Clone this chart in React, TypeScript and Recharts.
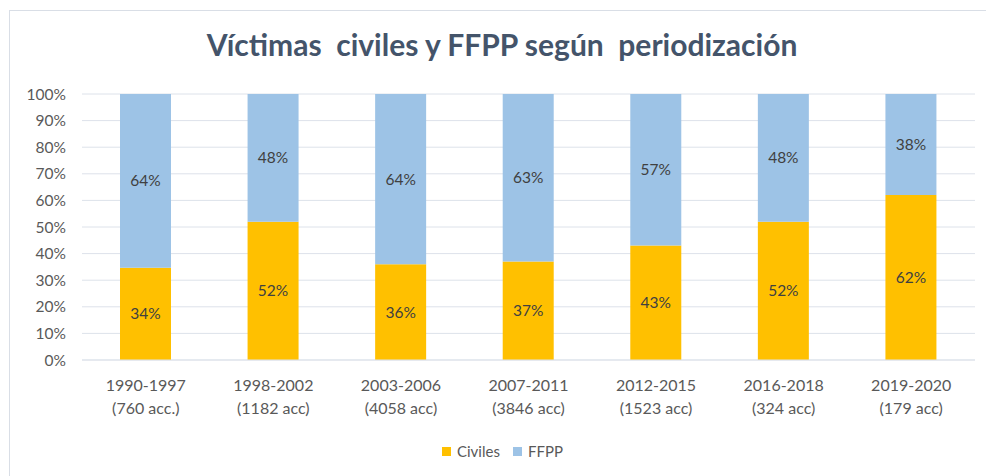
import { BarChart, Bar, XAxis, YAxis, CartesianGrid, LabelList, Legend } from 'recharts';

const periods = ['1990-1997', '1998-2002', '2003-2006', '2007-2011', '2012-2015', '2016-2018', '2019-2020'];
const accidents = ['(760 acc.)', '(1182 acc)', '(4058 acc)', '(3846 acc)', '(1523 acc)', '(324 acc)', '(179 acc)'];
const civiles = [34, 52, 36, 37, 43, 52, 62];
const ffpp = [64, 48, 64, 63, 57, 48, 38];
const yTicks = [0, 0.1, 0.2, 0.3, 0.4, 0.5, 0.6, 0.7, 0.8, 0.9, 1];

const data = periods.map((p, i) => ({ period: p, acc: accidents[i], civiles: civiles[i], ffpp: ffpp[i] }));

const FONT = 'Lato, "Open Sans", sans-serif';
const TEXT = '#595959';

const PeriodTick = ({ x, y, payload, index }: any) => (
  <text x={x} y={y} textAnchor="middle" fill={TEXT} fontSize={16} fontFamily={FONT}>
    <tspan x={x} dy={23}>{payload.value}</tspan>
    <tspan x={x} dy={23}>{accidents[index]}</tspan>
  </text>
);

const LegendContent = () => (
  <div style={{ display: 'flex', alignItems: 'center', fontFamily: FONT, fontSize: 15, color: TEXT }}>
    <span style={{ width: 9, height: 9, background: '#FFC000', display: 'inline-block', marginRight: 6 }} />
    <span style={{ marginRight: 13 }}>Civiles</span>
    <span style={{ width: 9, height: 9, background: '#9DC3E6', display: 'inline-block', marginRight: 6 }} />
    <span>FFPP</span>
  </div>
);

export default function App() {
  return (
    <div style={{ position: 'absolute', left: 0, top: 0, width: 986, height: 476, background: '#fff', overflow: 'hidden' }}>
      <div style={{ position: 'absolute', left: 9, top: 10, width: 1000, height: 500, border: '1px solid #d9dee6' }} />
      <div style={{
        position: 'absolute', left: 0, top: 26, width: 1004, textAlign: 'center', whiteSpace: 'pre',
        fontFamily: FONT, fontWeight: 700, fontSize: 30, color: '#44546A',
      }}>
        {'Víctimas  civiles y FFPP según  periodización'}
      </div>
      <div style={{ position: 'absolute', left: 0, top: 0 }}>
        <BarChart
          width={986}
          height={476}
          data={data}
          stackOffset="expand"
          barSize={51}
          margin={{ top: 94, right: 11, bottom: 0, left: 0 }}
        >
          <CartesianGrid vertical={false} stroke="#dde2ea" strokeWidth={1} />
          <XAxis
            dataKey="period"
            height={98}
            tickLine={false}
            axisLine={{ stroke: '#dde2ea' }}
            tick={<PeriodTick />}
            interval={0}
          />
          <YAxis
            width={82}
            ticks={yTicks}
            domain={[0, 1]}
            axisLine={false}
            tickLine={false}
            tickSize={0}
            tickMargin={16}
            tickFormatter={(v: number) => `${Math.round(v * 100)}%`}
            tick={{ fill: TEXT, fontSize: 15.5, fontFamily: FONT }}
          />
          <Legend
            content={<LegendContent />}
            wrapperStyle={{ position: 'absolute', left: 442, top: 442, width: 'auto' }}
          />
          <Bar dataKey="civiles" name="Civiles" stackId="a" fill="#FFC000" isAnimationActive={false}>
            <LabelList dataKey="civiles" position="center" formatter={(v: any) => `${v}%`} fill="#404040" fontSize={15.5} fontFamily={FONT} />
          </Bar>
          <Bar dataKey="ffpp" name="FFPP" stackId="a" fill="#9DC3E6" isAnimationActive={false}>
            <LabelList dataKey="ffpp" position="center" formatter={(v: any) => `${v}%`} fill="#404040" fontSize={15.5} fontFamily={FONT} />
          </Bar>
        </BarChart>
      </div>
    </div>
  );
}
